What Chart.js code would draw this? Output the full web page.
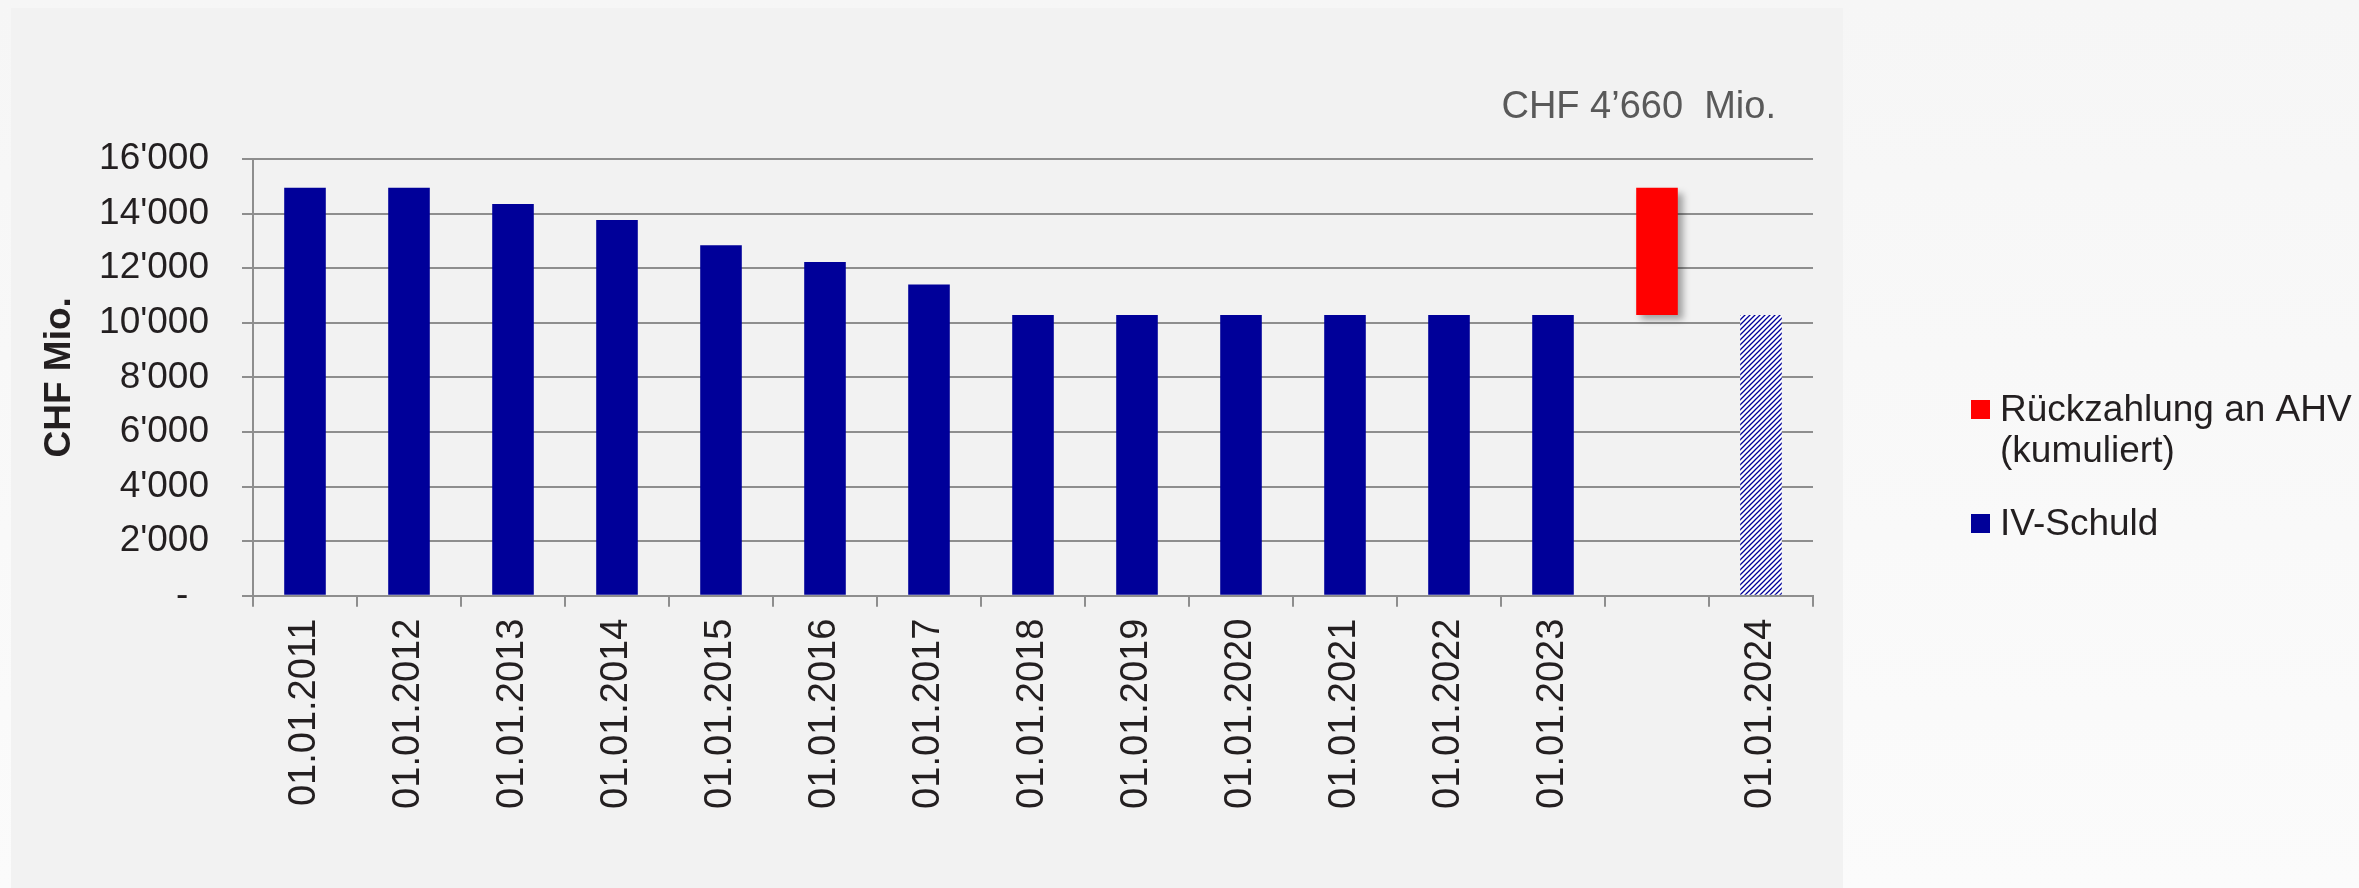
<!DOCTYPE html>
<html>
<head>
<meta charset="utf-8">
<script src="https://cdn.jsdelivr.net/npm/chart.js@4.4.1/dist/chart.umd.min.js"></script>
<style>
    html, body { margin: 0; padding: 0; }
    body { width: 2359px; height: 888px; overflow: hidden; background: linear-gradient(#f6f6f6, #fbfbfb); }
    canvas { position: absolute; left: 0; top: 0; }
</style>
</head>
<body>
<canvas id="debtChart" width="2359" height="888"></canvas>
<script>
const categories = ['01.01.2011', '01.01.2012', '01.01.2013', '01.01.2014', '01.01.2015',
    '01.01.2016', '01.01.2017', '01.01.2018', '01.01.2019', '01.01.2020',
    '01.01.2021', '01.01.2022', '01.01.2023', '', '01.01.2024'];

// IV-Schuld in CHF Mio.
const ivDebt = [14944, 14944, 14352, 13765, 12843, 12229, 11406, 10284, 10284, 10284,
    10284, 10284, 10284, null, 10284];

// cumulated repayment, floating bar (from, to)
const repayment = [null, null, null, null, null, null, null, null, null, null,
    null, null, null, [10284, 14944], null];

const yTicks = [0, 2000, 4000, 6000, 8000, 10000, 12000, 14000, 16000];
const legendLines = [['Rückzahlung an AHV', '(kumuliert)'], ['IV-Schuld']];
const repaymentNote = 'CHF 4’660  Mio.';

const FONT = '"Liberation Sans", Arial, sans-serif';
const TEXT = '#231f20';
const GRID = '#8e8e8e';
const BLUE = '#000099';
const RED = '#ff0000';

function fmt(v) {
    if (v === 0) return '-  ';
    return String(v).replace(/\B(?=(\d{3})+(?!\d))/g, "'");
}

const canvas = document.getElementById('debtChart');
const ctx = canvas.getContext('2d');

function hatch() {
    const c = document.createElement('canvas');
    c.width = 5; c.height = 5;
    const g = c.getContext('2d');
    g.fillStyle = '#fff';
    g.fillRect(0, 0, 5, 5);
    g.strokeStyle = BLUE;
    g.lineWidth = 1.3;
    g.beginPath();
    g.moveTo(0, 5); g.lineTo(5, 0);
    g.moveTo(-1, 1); g.lineTo(1, -1);
    g.moveTo(4, 6); g.lineTo(6, 4);
    g.stroke();
    return ctx.createPattern(c, 'repeat');
}
const stripes = hatch();

const panel = {
    id: 'panel',
    beforeDraw(chart) {
        const c = chart.ctx;
        c.save();
        c.fillStyle = '#f2f2f2';
        c.fillRect(11, 8, 1832, 880);
        c.restore();
    }
};

// shadow under the red bar
const shadow = {
    id: 'shadow',
    beforeDatasetDraw(chart, args) {
        if (args.index !== 0) return;
        chart.ctx.save();
        chart.ctx.shadowColor = 'rgba(0,0,0,0.35)';
        chart.ctx.shadowBlur = 7;
        chart.ctx.shadowOffsetX = 5;
        chart.ctx.shadowOffsetY = 5;
    },
    afterDatasetDraw(chart, args) {
        if (args.index !== 0) return;
        chart.ctx.restore();
    }
};

const sideLegend = {
    id: 'sideLegend',
    afterDraw(chart) {
        const c = chart.ctx;
        c.save();
        c.font = '37px ' + FONT;
        c.textAlign = 'left';
        c.textBaseline = 'alphabetic';
        let y = 421;
        chart.data.datasets.forEach((ds, i) => {
            const lines = legendLines[i];
            c.fillStyle = ds.legendColor;
            c.fillRect(1971, y - 21, 19, 19);
            c.fillStyle = TEXT;
            lines.forEach((l, j) => c.fillText(l, 2000, y + j * 41));
            y += (lines.length - 1) * 41 + 73;
        });
        // note above the repayment bar
        c.font = '38px ' + FONT;
        c.fillStyle = '#595959';
        c.textAlign = 'right';
        c.fillText(repaymentNote, 1776, 118);
        c.restore();
    }
};

new Chart(ctx, {
    type: 'bar',
    data: {
        labels: categories,
        datasets: [{
            label: legendLines[0].join(' '),
            data: repayment,
            backgroundColor: RED,
            legendColor: RED,
            grouped: false,
            barPercentage: 0.4,
            categoryPercentage: 1
        }, {
            label: legendLines[1].join(' '),
            data: ivDebt,
            backgroundColor: ivDebt.map((v, i) => i === ivDebt.length - 1 ? stripes : BLUE),
            legendColor: BLUE,
            grouped: false,
            barPercentage: 0.4,
            categoryPercentage: 1
        }]
    },
    options: {
        responsive: false,
        animation: false,
        devicePixelRatio: 1,
        layout: { padding: { top: 159, right: 546, bottom: 0, left: 0 } },
        plugins: {
            legend: { display: false },
            tooltip: { enabled: false }
        },
        scales: {
            x: {
                grid: { offset: true, drawOnChartArea: false, color: GRID, lineWidth: 2, tickLength: 11 },
                border: { display: true, color: GRID, width: 2 },
                ticks: {
                    autoSkip: false, minRotation: 90, maxRotation: 90, padding: 12,
                    color: TEXT, font: { family: FONT, size: 38 }
                },
                afterFit(scale) { scale.height = 292.3; }
            },
            y: {
                min: 0,
                max: 16000,
                afterBuildTicks(scale) { scale.ticks = yTicks.map(v => ({ value: v })); },
                grid: { color: GRID, lineWidth: 2, tickLength: 11 },
                border: { display: true, color: GRID, width: 2 },
                ticks: {
                    padding: 33, color: TEXT, font: { family: FONT, size: 37 },
                    callback: v => fmt(v)
                },
                title: {
                    display: true, text: 'CHF Mio.', color: TEXT,
                    font: { family: FONT, size: 37, weight: 'bold' },
                    padding: { top: 38, bottom: 0 }
                },
                afterFit(scale) { scale.width = 253; }
            }
        }
    },
    plugins: [panel, shadow, sideLegend]
});
</script>
</body>
</html>
